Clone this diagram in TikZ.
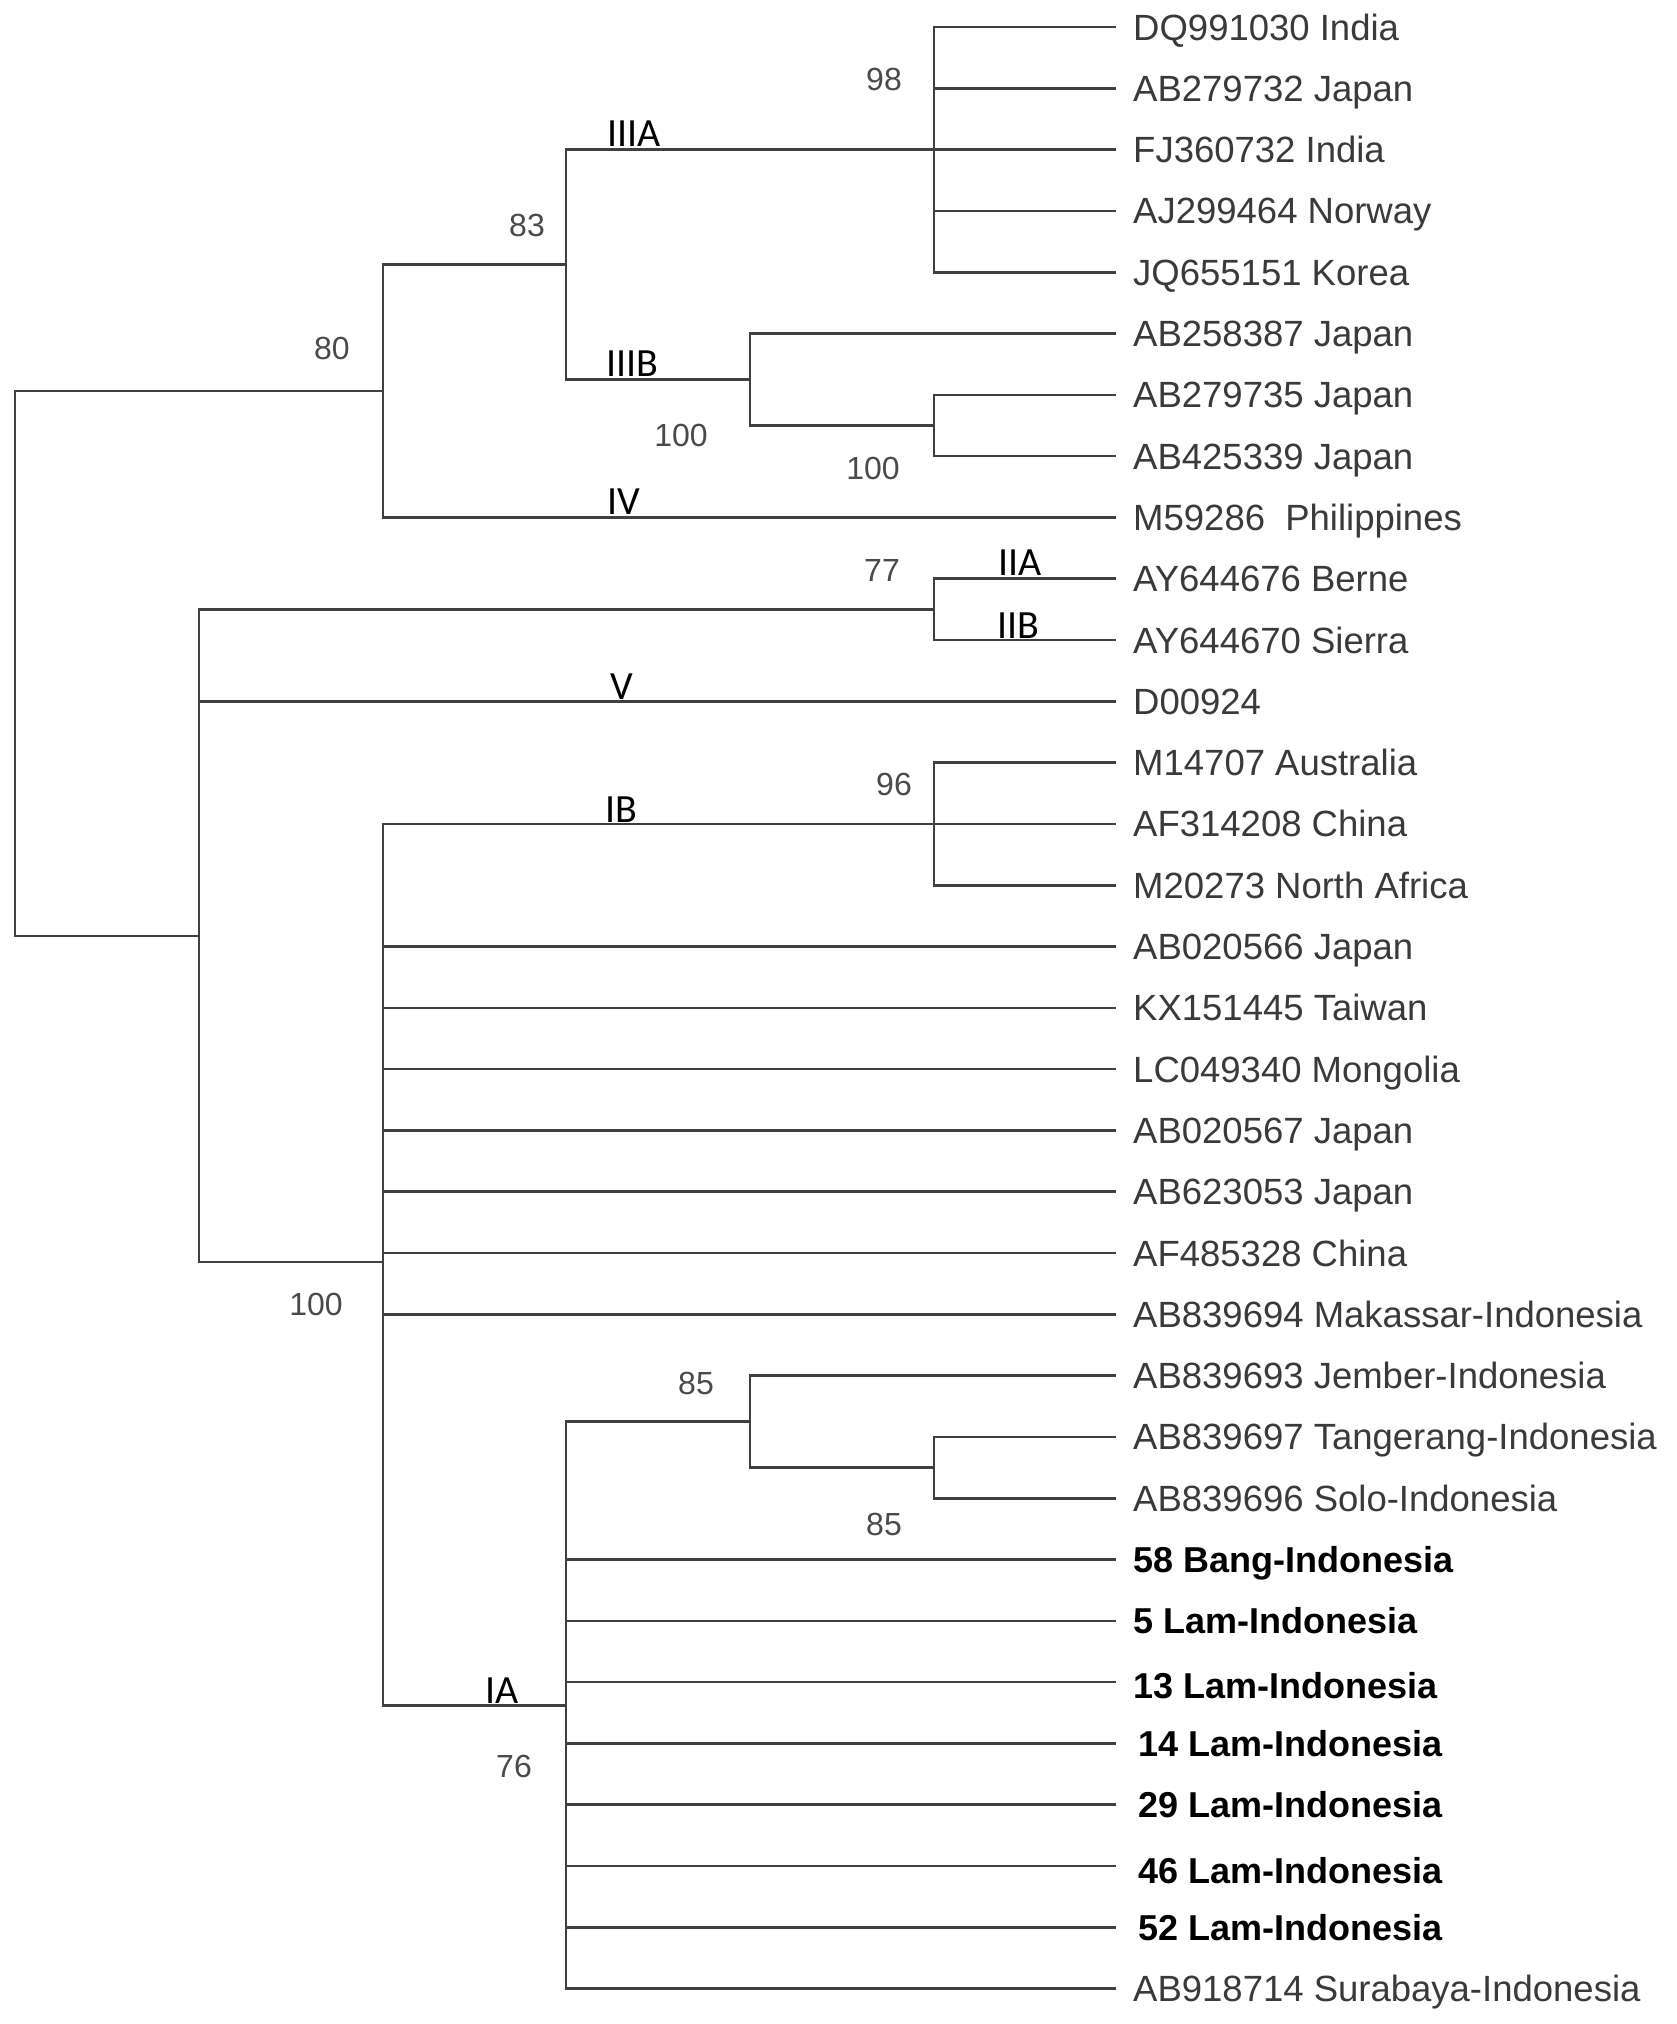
\documentclass[tikz,border=0pt]{standalone}
\usepackage{fontspec}
\setmainfont{Liberation Sans}
\newfontfamily\cladefont{Carlito}
\definecolor{linegray}{HTML}{404040}
\definecolor{leafgray}{HTML}{3A3A3A}
\definecolor{bootgray}{HTML}{4A4A4A}
\begin{document}
\begin{tikzpicture}[x=1pt,y=-1pt,
  branch/.style={draw=linegray, line width=2.6pt},
  leafedge/.style={branch, shorten >=17pt},
  leaf/.style={anchor=west, inner sep=0pt, text height=26pt, text depth=0pt,
               font=\fontsize{36.5}{40}\selectfont, text=leafgray},
  boldleaf/.style={leaf, font=\fontsize{36}{40}\selectfont\bfseries, text=black},
  boot/.style={inner sep=0pt, font=\fontsize{32}{36}\selectfont, text=bootgray},
  clade/.style={anchor=base, inner sep=0pt, font=\cladefont\fontsize{40}{44}\selectfont, text=black},
]
\useasboundingbox[fill=white] (0,0) rectangle (1677,2024);

% leaf labels
\node[leaf] (l0)  at (1133,{27+61.3*0})  {DQ991030 India};
\node[leaf] (l1)  at (1133,{27+61.3*1})  {AB279732 Japan};
\node[leaf] (l2)  at (1133,{27+61.3*2})  {FJ360732 India};
\node[leaf] (l3)  at (1133,{27+61.3*3})  {AJ299464 Norway};
\node[leaf] (l4)  at (1133,{27+61.3*4})  {JQ655151 Korea};
\node[leaf] (l5)  at (1133,{27+61.3*5})  {AB258387 Japan};
\node[leaf] (l6)  at (1133,{27+61.3*6})  {AB279735 Japan};
\node[leaf] (l7)  at (1133,{27+61.3*7})  {AB425339 Japan};
\node[leaf] (l8)  at (1133,{27+61.3*8})  {M59286~~Philippines};
\node[leaf] (l9)  at (1133,{27+61.3*9})  {AY644676 Berne};
\node[leaf] (l10) at (1133,{27+61.3*10}) {AY644670 Sierra};
\node[leaf] (l11) at (1133,{27+61.3*11}) {D00924};
\node[leaf] (l12) at (1133,{27+61.3*12}) {M14707 Australia};
\node[leaf] (l13) at (1133,{27+61.3*13}) {AF314208 China};
\node[leaf] (l14) at (1133,{27+61.3*14}) {M20273 North Africa};
\node[leaf] (l15) at (1133,{27+61.3*15}) {AB020566 Japan};
\node[leaf] (l16) at (1133,{27+61.3*16}) {KX151445 Taiwan};
\node[leaf] (l17) at (1133,{27+61.3*17}) {LC049340 Mongolia};
\node[leaf] (l18) at (1133,{27+61.3*18}) {AB020567 Japan};
\node[leaf] (l19) at (1133,{27+61.3*19}) {AB623053 Japan};
\node[leaf] (l20) at (1133,{27+61.3*20}) {AF485328 China};
\node[leaf] (l21) at (1133,{27+61.3*21}) {AB839694 Makassar-Indonesia};
\node[leaf] (l22) at (1133,{27+61.3*22}) {AB839693 Jember-Indonesia};
\node[leaf] (l23) at (1133,{27+61.3*23}) {AB839697 Tangerang-Indonesia};
\node[leaf] (l24) at (1133,{27+61.3*24}) {AB839696 Solo-Indonesia};
\node[boldleaf] (l25) at (1133,{27+61.3*25}) {58 Bang-Indonesia};
\node[boldleaf] (l26) at (1133,{27+61.3*26}) {5 Lam-Indonesia};
\node[boldleaf] (l27) at (1133,{27+61.3*27+3}) {13 Lam-Indonesia};
\node[boldleaf] (l28) at (1138,{27+61.3*28}) {14 Lam-Indonesia};
\node[boldleaf] (l29) at (1138,{27+61.3*29}) {29 Lam-Indonesia};
\node[boldleaf] (l30) at (1138,{27+61.3*30+4}) {46 Lam-Indonesia};
\node[boldleaf] (l31) at (1138,{27+61.3*31}) {52 Lam-Indonesia};
\node[leaf] (l32) at (1133,{27+61.3*32}) {AB918714 Surabaya-Indonesia};

% internal nodes
\coordinate (root)  at (15,663.5);
\coordinate (A)     at (383,391);
\coordinate (III)   at (566,264.5);
\coordinate (IIIAn) at (934,149.6);
\coordinate (IIIBn) at (750,379.5);
\coordinate (IIIBi) at (934,425.5);
\coordinate (B)     at (199,936);
\coordinate (II)    at (934,609.4);
\coordinate (I)     at (383,1262);
\coordinate (IBn)   at (934,824);
\coordinate (IA)    at (566,1705.5);
\coordinate (IAs)   at (750,1421.5);
\coordinate (IAi)   at (934,1467.5);
\coordinate (l27e)  at (1116,{27+61.3*27});
\coordinate (l30e)  at (1116,{27+61.3*30});

% branches
\draw[branch] (root) |- (A);
\draw[branch] (root) |- (B);
\draw[branch] (A) |- (III);
\draw[leafedge] (A) |- (l8.west);
\draw[branch] (III) |- (IIIAn);
\draw[branch] (III) |- (IIIBn);
\foreach \k in {0,...,4} {\draw[leafedge] (IIIAn) |- (l\k.west);}
\draw[leafedge] (IIIBn) |- (l5.west);
\draw[branch] (IIIBn) |- (IIIBi);
\draw[leafedge] (IIIBi) |- (l6.west);
\draw[leafedge] (IIIBi) |- (l7.west);
\draw[branch] (B) |- (II);
\draw[leafedge] (B) |- (l11.west);
\draw[branch] (B) |- (I);
\draw[leafedge] (II) |- (l9.west);
\draw[leafedge] (II) |- (l10.west);
\draw[branch] (I) |- (IBn);
\foreach \k in {12,13,14} {\draw[leafedge] (IBn) |- (l\k.west);}
\foreach \k in {15,...,21} {\draw[leafedge] (I) |- (l\k.west);}
\draw[branch] (I) |- (IA);
\draw[branch] (IA) |- (IAs);
\draw[leafedge] (IAs) |- (l22.west);
\draw[branch] (IAs) |- (IAi);
\draw[leafedge] (IAi) |- (l23.west);
\draw[leafedge] (IAi) |- (l24.west);
\draw[leafedge] (IA) |- (l25.west);
\draw[leafedge] (IA) |- (l26.west);
\draw[branch] (IA) |- (l27e);
\foreach \k in {28,29,31} {\draw[branch, shorten >=22pt] (IA) |- (l\k.west);}
\draw[branch] (IA) |- (l30e);
\draw[leafedge] (IA) |- (l32.west);

% bootstrap values
\node[boot] (b80)  at (332,348)  {80};
\node[boot] (b83)  at (527,225)  {83};
\node[boot] (b98)  at (884,79)   {98};
\node[boot] (b100a) at (681,435) {100};
\node[boot] (b100b) at (873,468) {100};
\node[boot] (b77)  at (882,570)  {77};
\node[boot] (b96)  at (894,784)  {96};
\node[boot] (b100c) at (316,1304) {100};
\node[boot] (b85a) at (696,1383) {85};
\node[boot] (b85b) at (884,1524) {85};
\node[boot] (b76)  at (514,1766) {76};

% clade labels
\node[clade] (cIIIA) at (634,146)   {IIIA};
\node[clade] (cIIIB) at (632,376)   {IIIB};
\node[clade] (cIV)   at (624,514)   {IV};
\node[clade] (cIIA)  at (1020,575.5) {IIA};
\node[clade] (cIIB)  at (1018,638)  {IIB};
\node[clade] (cV)    at (622,699)   {V};
\node[clade] (cIB)   at (621,822)   {IB};
\node[clade] (cIA)   at (502,1703)  {IA};
\end{tikzpicture}
\end{document}
